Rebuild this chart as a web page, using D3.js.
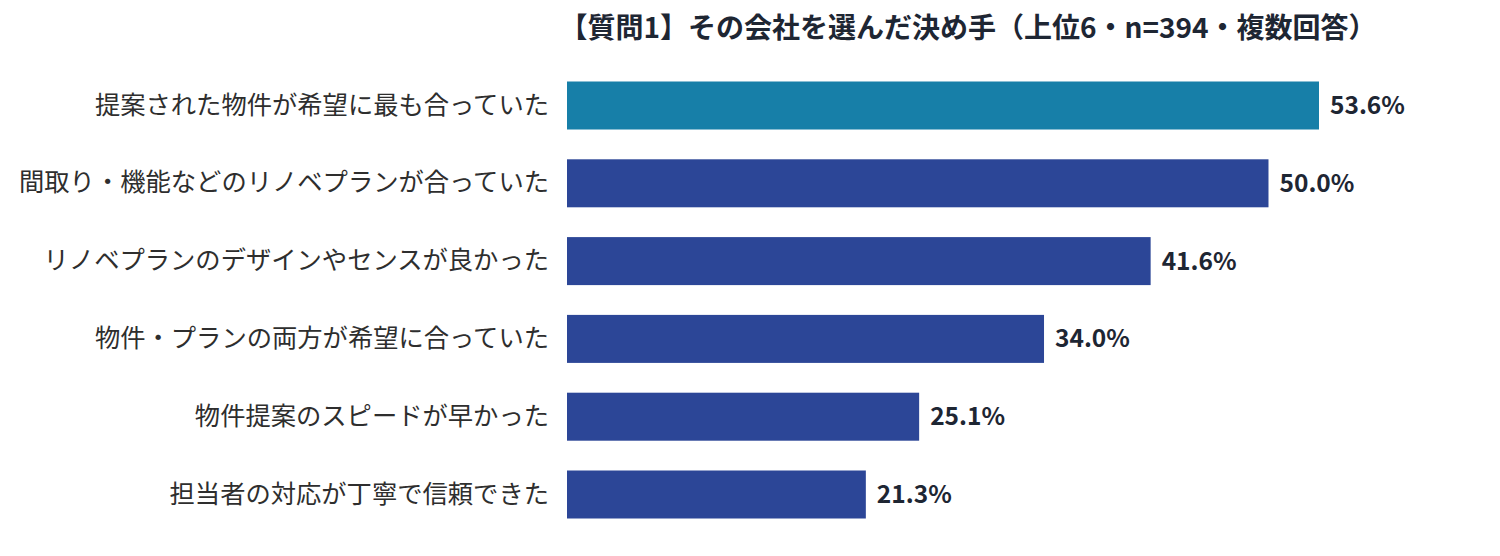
<!DOCTYPE html>
<html>
<head>
<meta charset="utf-8">
<script src="https://cdn.jsdelivr.net/npm/d3@7"></script>
<style>
  body { margin: 0; background: #fff; }
  svg { display: block; font-family: "Noto Sans CJK JP", "Noto Sans", sans-serif; }
</style>
</head>
<body>
<svg></svg>
<script>
// Data
const categories = [
  "提案された物件が希望に最も合っていた",
  "間取り・機能などのリノベプランが合っていた",
  "リノベプランのデザインやセンスが良かった",
  "物件・プランの両方が希望に合っていた",
  "物件提案のスピードが早かった",
  "担当者の対応が丁寧で信頼できた"
];
const values = [53.6, 50.0, 41.6, 34.0, 25.1, 21.3];
const title = "【質問1】その会社を選んだ決め手（上位6・n=394・複数回答）";

const width = 1500;
const height = 556;
const margin = { top: 66.6, left: 567 };
const step = 77.8;

const svg = d3.select("svg")
  .attr("width", width)
  .attr("height", height);

// Scales
const x = d3.scaleLinear()
  .domain([0, 53.6])
  .range([margin.left, 1319]);

const y = d3.scaleBand()
  .domain(categories)
  .range([margin.top, margin.top + step * categories.length])
  .paddingInner(0.383)
  .paddingOuter(0.1915);

// Title
svg.append("text")
  .attr("x", 968)
  .attr("y", 38)
  .attr("text-anchor", "middle")
  .attr("font-size", 28)
  .attr("font-weight", "bold")
  .attr("fill", "#1e2633")
  .text(title);

// Bars
svg.selectAll(".bar")
  .data(values)
  .enter()
  .append("rect")
  .attr("class", "bar")
  .attr("x", x(0))
  .attr("y", (d, i) => y(categories[i]))
  .attr("width", d => x(d) - x(0))
  .attr("height", y.bandwidth())
  .attr("fill", (d, i) => i === 0 ? "#177fa8" : "#2c4697");

// Value labels
svg.selectAll(".val")
  .data(values)
  .enter()
  .append("text")
  .attr("class", "val")
  .attr("x", d => x(d) + 11)
  .attr("y", (d, i) => y(categories[i]) + y.bandwidth() / 2)
  .attr("dy", "0.35em")
  .attr("font-size", 24.5)
  .attr("font-weight", "bold")
  .attr("fill", "#1e2633")
  .text(d => d.toFixed(1) + "%");

// Category labels
svg.append("g")
  .attr("transform", `translate(${margin.left - 18}, 0)`)
  .call(d3.axisLeft(y).tickSize(0).tickPadding(0))
  .call(g => g.select(".domain").remove())
  .call(g => g.selectAll("text")
    .attr("font-size", 25.3)
    .attr("font-family", "'Noto Sans CJK JP', 'Noto Sans', sans-serif")
    .attr("fill", "#2e2e2e"));
</script>
</body>
</html>
